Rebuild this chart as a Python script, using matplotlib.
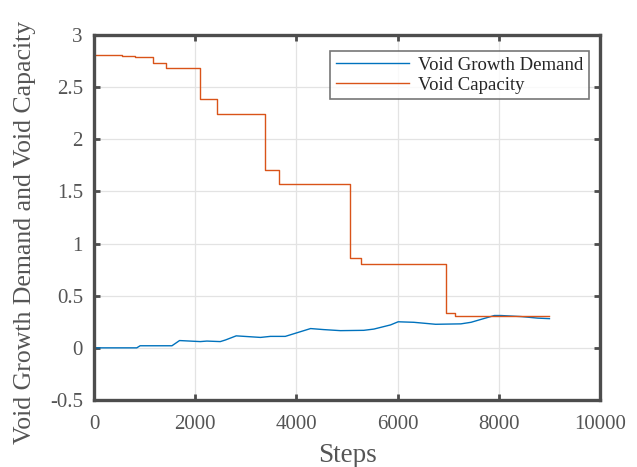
import matplotlib
matplotlib.use("Agg")
import matplotlib.pyplot as plt

# Void capacity: piecewise-constant levels, each holding from its step onward
cap_steps = [0, 550, 800, 1160, 1430, 2100, 2430, 3370, 3660, 5060, 5270, 6950, 7130, 9000]
cap_values = [2.805, 2.795, 2.79, 2.73, 2.685, 2.39, 2.24, 1.71, 1.57, 0.865, 0.80, 0.335, 0.31, 0.31]

# Void growth demand
demand_steps = [0, 845, 911, 1540, 1690, 2100, 2230, 2495, 2595, 2810, 3290, 3485, 3780,
                3880, 4280, 4540, 4870, 5330, 5530, 5860, 6010, 6320, 6750, 7250, 7450,
                7910, 8040, 8440, 8770, 9000]
demand_values = [0.0, 0.0, 0.02, 0.02, 0.07, 0.06, 0.065, 0.06, 0.075, 0.115, 0.10, 0.11, 0.11,
                 0.125, 0.185, 0.175, 0.165, 0.168, 0.18, 0.22, 0.25, 0.245, 0.226, 0.23, 0.245,
                 0.31, 0.31, 0.30, 0.285, 0.28]

xticks = [0, 2000, 4000, 6000, 8000, 10000]
yticks = [-0.5, 0, 0.5, 1, 1.5, 2, 2.5, 3]
ytick_labels = ["-0.5", "0", "0.5", "1", "1.5", "2", "2.5", "3"]

plt.rcParams["font.family"] = ["Liberation Serif", "DejaVu Serif"]
axis_col = "#4d4d4d"

fig = plt.figure(figsize=(6.37, 4.67), dpi=100)
ax = fig.add_axes([0.1476, 0.1435, 0.7944, 0.7815])

ax.plot(demand_steps, demand_values, color="#0072BD", lw=1.0, label="Void Growth Demand")
ax.step(cap_steps, cap_values, where="post", color="#D95319", lw=1.0, label="Void Capacity")

ax.set_xlim(0, 10000)
ax.set_ylim(-0.5, 3)
ax.set_xticks(xticks)
ax.set_xticklabels([str(t) for t in xticks])
ax.set_yticks(yticks)
ax.set_yticklabels(ytick_labels)

ax.grid(True, color="#e3e3e3", lw=0.9)
ax.set_axisbelow(True)
for s in ax.spines.values():
    s.set_color(axis_col)
    s.set_linewidth(2.4)
ax.tick_params(direction="in", length=4, width=2, colors=axis_col, labelsize=15,
               top=True, right=True, pad=8)
ax.tick_params(axis="x", pad=11)
for lab in ax.get_xticklabels() + ax.get_yticklabels():
    lab.set_color("#555555")

ax.set_xlabel("Steps", fontsize=19.5, color="#555555", labelpad=6)
ax.set_ylabel("Void Growth Demand and Void Capacity", fontsize=18.5, color="#555555")
ax.yaxis.label.set_va("center")
ax.yaxis.set_label_coords(-0.137, 0.46)

leg = ax.legend(loc="upper right", bbox_to_anchor=(0.978, 0.956), fontsize=13.5,
                frameon=True, fancybox=False, handlelength=3.9, handletextpad=0.5,
                borderpad=0.3, labelspacing=0.15, borderaxespad=0)
leg.get_frame().set_edgecolor("#555555")
leg.get_frame().set_linewidth(1.2)
for t in leg.get_texts():
    t.set_color("#262626")

fig.savefig("out.png", dpi=100)
